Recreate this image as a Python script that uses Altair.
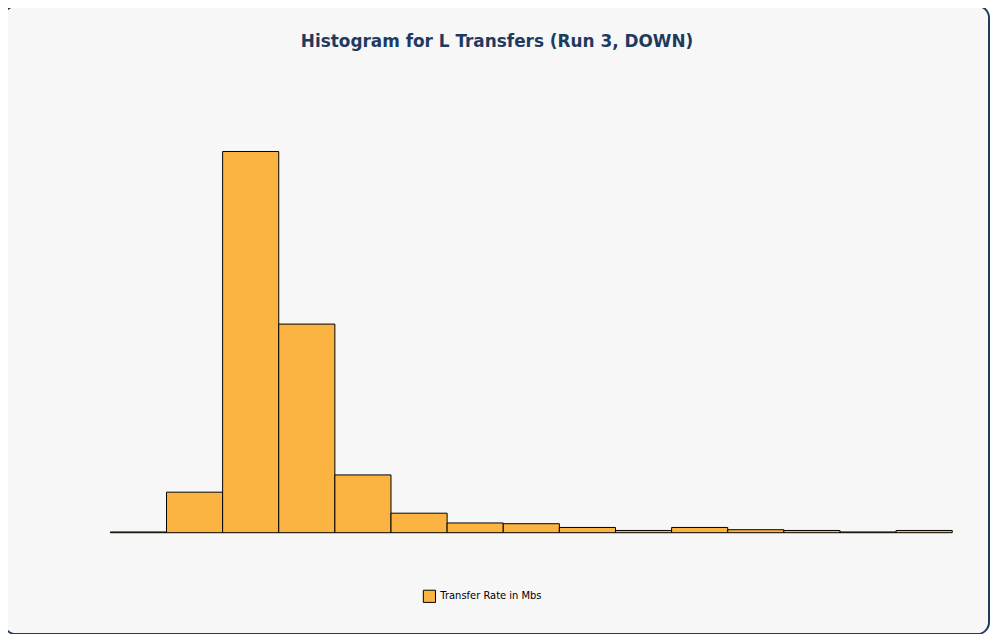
import altair as alt
import pandas as pd

bin_start = [40, 60, 80, 100, 120, 140, 160, 180, 200, 220, 240, 260, 280, 300, 320]
bin_end = [60, 80, 100, 120, 140, 160, 180, 200, 220, 240, 260, 280, 300, 320, 340]
freq = [1, 54, 508, 278, 77, 26, 13, 12, 7, 3, 7, 4, 3, 1, 3]
series = ["Transfer Rate in Mbs"] * len(freq)

df = pd.DataFrame({"start": bin_start, "end": bin_end, "freq": freq, "series": series})

W, H = 847, 453
FONT = "DejaVu Sans"

frame = alt.Chart(pd.DataFrame({"a": [0]})).mark_rect(
    fill="#F7F7F7", stroke="#1F3A5F", strokeWidth=2, cornerRadius=12, clip=False
).encode(x=alt.value(-107), x2=alt.value(884), y=alt.value(-77), y2=alt.value(555))

bars = alt.Chart(df).mark_rect(stroke="black", strokeWidth=1).encode(
    x=alt.X("start:Q", scale=alt.Scale(domain=[40, 340], nice=False),
            axis=alt.Axis(values=[40, 80, 120, 160, 200, 240, 280, 320],
                          labelExpr="datum.value==40||datum.value==320 ? '' : datum.label",
                          title=None, grid=True, gridColor="#C8C8C8", domainColor="black",
                          tickColor="black", labelFont=FONT, labelFontSize=10, labelColor="black")),
    x2="end:Q",
    y=alt.Y("freq:Q", scale=alt.Scale(domain=[0, 600], nice=False),
            axis=alt.Axis(values=[0, 200, 400, 600], title="Frequency", titleFont=FONT,
                          titleFontSize=10, titleFontWeight="normal", titlePadding=28,
                          grid=True, gridColor="#C8C8C8", domain=False, tickColor="black",
                          labelFont=FONT, labelFontSize=10, labelColor="black")),
    y2=alt.datum(0),
    fill=alt.Color("series:N", scale=alt.Scale(range=["#FBB442"]),
                   legend=alt.Legend(title=None, orient="none", legendX=314, legendY=57 + H,
                                     symbolType="square", symbolStrokeColor="black",
                                     symbolStrokeWidth=1, symbolSize=150,
                                     labelFont=FONT, labelFontSize=10)),
)

title = alt.Chart(pd.DataFrame({"t": ["Histogram for L Transfers (Run 3, DOWN)"]})).mark_text(
    font=FONT, fontSize=17, fontWeight="bold", color="#1F3A5F", align="center"
).encode(text="t:N", x=alt.value(389), y=alt.value(-41))

chart = alt.layer(frame, bars, title).properties(
    width=W, height=H,
    padding={"left": 103, "top": 73, "right": 40, "bottom": 100},
    autosize=alt.AutoSizeParams(type="none"),
    background="white",
).configure_view(stroke=None).configure_axis(zindex=1)

chart.save("out.html", embed_options={"renderer": "svg", "actions": False})
